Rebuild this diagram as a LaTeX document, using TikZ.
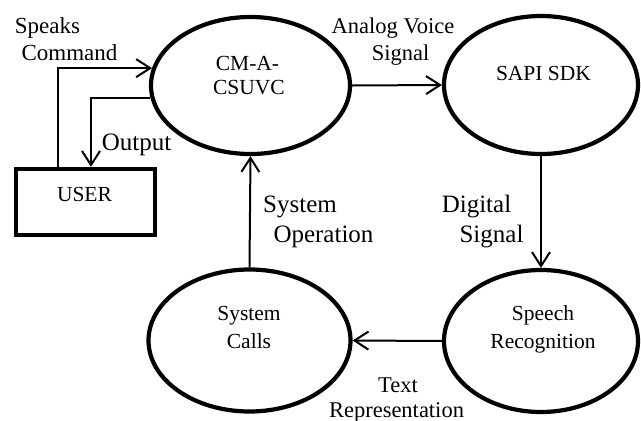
\documentclass[tikz,border=0pt]{standalone}
\usepackage{fontspec}
\setmainfont{Liberation Serif}
\usetikzlibrary{shapes.geometric,arrows.meta}
\begin{document}
\begin{tikzpicture}[x=1pt,y=-1pt,
  proc/.style={ellipse,draw,line width=4.2pt,inner sep=0pt},
  userbox/.style={rectangle,draw,line width=4.3pt,inner sep=0pt,minimum width=139pt,minimum height=66pt},
  arr/.style={line width=2pt,-{Straight Barb[length=14pt,width=18pt,line width=2pt]}},
  ntext/.style={font=\fontsize{21.5}{25}\selectfont,anchor=base,inner sep=0pt},
  labA/.style={font=\fontsize{23}{27}\selectfont,anchor=base,inner sep=0pt},
  labB/.style={font=\fontsize{25}{29}\selectfont,anchor=base,inner sep=0pt},
  labC/.style={font=\fontsize{22.5}{26}\selectfont,anchor=base,inner sep=0pt}
]
\useasboundingbox (0,0) rectangle (641,421);
% process ellipses
\node[proc,minimum width=199pt,minimum height=137pt] (cm) at (250.5,85.5) {};
\node[proc,minimum width=194pt,minimum height=138pt] (sapi) at (541,85) {};
\node[proc,minimum width=194pt,minimum height=142pt] (speech) at (541,341) {};
\node[proc,minimum width=202pt,minimum height=142pt] (calls) at (249.5,340.5) {};
\node[userbox] (user) at (85.5,202) {};
% texts inside
\node[ntext] (cmt1) at (247.5,70) {CM-A-};
\node[ntext] (cmt2) at (249,94) {CSUVC};
\node[ntext] (sapit) at (543.5,80) {SAPI SDK};
\node[ntext] (spt1) at (543,320) {Speech};
\node[ntext] (spt2) at (543,348) {Recognition};
\node[ntext] (cat1) at (249,320) {System};
\node[ntext] (cat2) at (249,348) {Calls};
\node[ntext] (usert) at (84.5,201) {USER};
% connectors
\draw[arr] (cm.east) -- (sapi.west);
\draw[arr] (sapi.south) -- (speech.north);
\draw[arr] (speech.west) -- (calls.east);
\draw[arr] (calls.north) -- (cm.south);
\draw[arr] ([xshift=-27.5pt]user.north) |- (cm.170);
\draw[arr] (cm.187) -| ([xshift=5.5pt]user.north);
% labels
\node[labA] (l1a) at (47.5,33) {Speaks};
\node[labA] (l1b) at (69.5,60) {Command};
\node[labB] (l2) at (136.5,150) {Output};
\node[labC] (l3a) at (393,33) {Analog Voice};
\node[labC] (l3b) at (400.5,60) {Signal};
\node[labB] (l4a) at (300,212) {System};
\node[labB] (l4b) at (323.5,242) {Operation};
\node[labB] (l5a) at (476.5,212) {Digital};
\node[labB] (l5b) at (491.5,242) {Signal};
\node[labC] (l6a) at (398,392) {Text};
\node[labC] (l6b) at (396.5,417) {Representation};
\end{tikzpicture}
\end{document}
